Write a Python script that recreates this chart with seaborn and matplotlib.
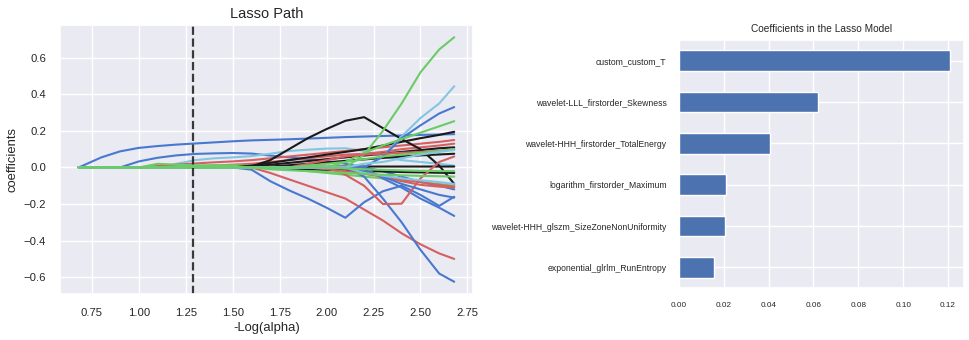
import numpy as np
import pandas as pd
import matplotlib
matplotlib.use("Agg")
import matplotlib.pyplot as plt
import seaborn as sns

# -----------------------------
# Data
# -----------------------------
neg_log_alpha = [0.68, 0.8, 0.9, 1.0, 1.1, 1.2, 1.3, 1.4, 1.5, 1.6, 1.7,
                 1.8, 1.9, 2.0, 2.1, 2.2, 2.3, 2.4, 2.5, 2.6, 2.68]
alpha_cv = 1.29  # chosen -log(alpha)

# coefficient paths (one row per feature)
path_values = [
    [0, 0.055, 0.088, 0.107, 0.117, 0.125, 0.131, 0.137, 0.143, 0.148, 0.151, 0.154, 0.158, 0.162, 0.166, 0.169, 0.172, 0.175, 0.178, 0.18, 0.182],
    [0, 0, 0, 0.033, 0.053, 0.066, 0.074, 0.077, 0.079, 0.076, 0.065, 0.055, 0.045, 0.035, 0.02, 0.0, -0.02, -0.05, -0.08, -0.1, -0.12],
    [0, 0, 0, 0, 0, 0.02, 0.04, 0.05, 0.055, 0.062, 0.075, 0.09, 0.097, 0.103, 0.105, 0.09, 0.06, 0.04, 0.03, 0.02, 0.01],
    [0, 0, 0, 0, 0.008, 0.015, 0.022, 0.028, 0.033, 0.04, 0.05, 0.06, 0.07, 0.08, 0.09, 0.1, 0.11, 0.12, 0.13, 0.14, 0.15],
    [0, 0, 0, 0, 0, 0, 0.005, 0.01, 0.015, 0.02, 0.03, 0.04, 0.05, 0.06, 0.07, 0.075, 0.085, 0.1, 0.11, 0.12, 0.13],
    [0, 0, 0, 0, 0.02, 0.015, 0.012, 0.012, 0.012, 0.01, 0.0, -0.01, -0.02, -0.03, -0.04, -0.05, -0.06, -0.07, -0.08, -0.09, -0.1],
    [0, 0, 0, 0, 0, 0, 0, 0, 0, 0.005, 0.04, 0.1, 0.16, 0.21, 0.255, 0.275, 0.215, 0.155, 0.1, 0.01, -0.09],
    [0, 0, 0, 0, 0, 0, 0, 0, 0, 0.01, 0.025, 0.04, 0.055, 0.07, 0.085, 0.1, 0.12, 0.14, 0.16, 0.178, 0.195],
    [0, 0, 0, 0, 0, 0, 0, 0, 0, 0.005, 0.015, 0.025, 0.035, 0.045, 0.055, 0.065, 0.075, 0.085, 0.095, 0.105, 0.11],
    [0, 0, 0, 0, 0, 0, 0, 0, 0, 0, 0.005, 0.012, 0.02, 0.028, 0.036, 0.044, 0.052, 0.06, 0.066, 0.071, 0.075],
    [0, 0, 0, 0, 0, 0, 0, 0, 0, 0, 0.002, 0.003, 0.004, 0.004, 0.005, 0.005, 0.005, 0.005, 0.005, 0.005, 0.005],
    [0, 0, 0, 0, 0, 0, 0, 0, 0, 0, -0.003, -0.006, -0.01, -0.013, -0.016, -0.019, -0.022, -0.025, -0.027, -0.029, -0.03],
    [0, 0, 0, 0, 0, 0, 0, 0, 0, 0, 0, 0, 0, 0, 0, 0.07, 0.2, 0.35, 0.52, 0.645, 0.712],
    [0, 0, 0, 0, 0, 0, 0, 0, 0, 0, 0, 0, 0, 0, 0, 0, 0.06, 0.17, 0.27, 0.35, 0.444],
    [0, 0, 0, 0, 0, 0, 0, 0, 0, 0, 0, 0, 0, 0, 0, 0, 0.06, 0.16, 0.23, 0.295, 0.33],
    [0, 0, 0, 0, 0, 0, 0, 0, 0, 0, 0, 0, 0, 0, 0.03, 0.08, 0.12, 0.155, 0.19, 0.225, 0.253],
    [0, 0, 0, 0, 0, 0, 0, 0, 0, 0, -0.03, -0.065, -0.1, -0.135, -0.17, -0.23, -0.29, -0.36, -0.42, -0.47, -0.5],
    [0, 0, 0, 0, 0, 0, 0, 0, 0, -0.012, -0.075, -0.125, -0.17, -0.22, -0.275, -0.19, -0.13, -0.1, -0.15, -0.21, -0.16],
    [0, 0, 0, 0, 0, 0, 0, 0, 0, 0, 0, 0, 0, 0, 0, -0.05, -0.17, -0.3, -0.45, -0.58, -0.625],
    [0, 0, 0, 0, 0, 0, 0, 0, 0, 0, 0, 0, 0, 0, 0, 0, -0.06, -0.11, -0.17, -0.22, -0.265],
    [0, 0, 0, 0, 0, 0, 0, 0, 0, 0, 0, 0, 0, 0, -0.04, -0.1, -0.2, -0.198, -0.06, 0.03, 0.06],
    [0, 0, 0, 0, 0, 0, 0, 0, 0, 0, 0, 0, 0, -0.01, -0.02, -0.035, -0.05, -0.065, -0.08, -0.095, -0.105],
    [0, 0, 0, 0, 0, 0, 0, 0, 0, 0, 0, 0, 0, 0, 0, -0.02, -0.05, -0.075, -0.095, -0.105, -0.11],
    [0, 0, 0, 0, 0, 0, 0, 0, 0, 0, 0, 0, 0.02, 0.04, 0.06, 0.07, 0.075, 0.08, 0.085, 0.09, 0.1],
    [0, 0, 0, 0, 0, 0, 0, 0, 0, 0, 0, 0, 0.01, 0.02, 0.03, 0.045, 0.06, 0.07, 0.08, 0.09, 0.1],
    [0, 0, 0, 0, 0, 0, 0, 0, 0, 0, 0, 0, 0, 0, 0, -0.02, -0.05, -0.09, -0.12, -0.15, -0.165],
    [0, 0, 0, 0, 0, 0, 0, 0, 0, 0, 0, 0, 0, 0, 0, 0.02, 0.03, 0.05, 0.07, 0.085, 0.095],
    [0, 0, 0, 0, 0, 0, 0, 0, 0, 0, 0, 0, 0, 0, 0, -0.03, -0.045, -0.06, -0.07, -0.08, -0.09],
    [0, 0, 0, 0, 0, 0, 0, 0, 0, 0, 0, 0, 0, 0, -0.005, -0.01, -0.013, -0.016, -0.018, -0.02, -0.02],
    [0, 0, 0, 0, 0, 0, 0, 0, 0, 0, -0.01, -0.015, -0.02, -0.025, -0.03, -0.035, -0.04, -0.043, -0.046, -0.048, -0.05],
]
path_colors = ['b', 'b', 'c', 'r', 'r', 'g', 'k', 'k', 'k', 'k', 'k', 'k', 'g', 'c', 'b',
               'g', 'r', 'b', 'b', 'b', 'r', 'r', 'r', 'r', 'g', 'b', 'c', 'c', 'g', 'g']

features = ['custom_custom_T', 'wavelet-LLL_firstorder_Skewness',
            'wavelet-HHH_firstorder_TotalEnergy', 'logarithm_firstorder_Maximum',
            'wavelet-HHH_glszm_SizeZoneNonUniformity', 'exponential_glrlm_RunEntropy']
coefs = [0.1211, 0.0618, 0.0406, 0.0211, 0.0204, 0.0155]

# -----------------------------
# Style
# -----------------------------
sns.set_theme(style="darkgrid")
sns.set_color_codes("muted")
plt.rcParams['font.family'] = ['Liberation Sans', 'DejaVu Sans']
plt.rcParams['text.color'] = '.15'
plt.rcParams['axes.labelcolor'] = '.15'
plt.rcParams['xtick.color'] = '.15'
plt.rcParams['ytick.color'] = '.15'

fig = plt.figure(figsize=(9.69, 3.4), dpi=100)
ax1 = fig.add_axes([60 / 969, 46 / 340, 413 / 969, 269 / 340])
ax2 = fig.add_axes([679 / 969, 52 / 340, 285 / 969, 248 / 340])

# -----------------------------
# Lasso path
# -----------------------------
rows = []
for i, vals in enumerate(path_values):
    for x, v in zip(neg_log_alpha, vals):
        rows.append((f"f{i}", x, v))
df = pd.DataFrame(rows, columns=['feature', 'neg_log_alpha', 'coef'])
names = [f"f{i}" for i in range(len(path_values))]
palette = {n: c for n, c in zip(names, path_colors)}

sns.lineplot(data=df, x='neg_log_alpha', y='coef', hue='feature', hue_order=names,
             palette=palette, estimator=None, legend=False, lw=1.5, ax=ax1)
ax1.axvline(alpha_cv, color='k', linestyle='--', lw=1.6, alpha=0.85)
ax1.set_xticks([0.75, 1.0, 1.25, 1.5, 1.75, 2.0, 2.25, 2.5, 2.75])
ax1.set_yticks([-0.6, -0.4, -0.2, 0.0, 0.2, 0.4, 0.6])
ax1.tick_params(labelsize=8.1, pad=4)
ax1.set_xlabel('-Log(alpha)', fontsize=9.4, labelpad=3)
ax1.set_ylabel('coefficients', fontsize=9.4)
ax1.set_title('Lasso Path', fontsize=10.5, pad=5)

# -----------------------------
# Coefficients bar chart
# -----------------------------
sns.barplot(x=coefs, y=features, orient='h', color='#4C72B0', saturation=1,
            width=0.5, ax=ax2)
ax2.yaxis.grid(True)
ax2.set_xticks([0.0, 0.02, 0.04, 0.06, 0.08, 0.10, 0.12])
ax2.set_xticklabels(['0.00', '0.02', '0.04', '0.06', '0.08', '0.10', '0.12'])
ax2.tick_params(axis='x', labelsize=5.9, pad=4)
ax2.tick_params(axis='y', labelsize=6.2, pad=3)
ax2.set_title('Coefficients in the Lasso Model', fontsize=7.3, pad=6)

fig.savefig('out.png', dpi=100)
